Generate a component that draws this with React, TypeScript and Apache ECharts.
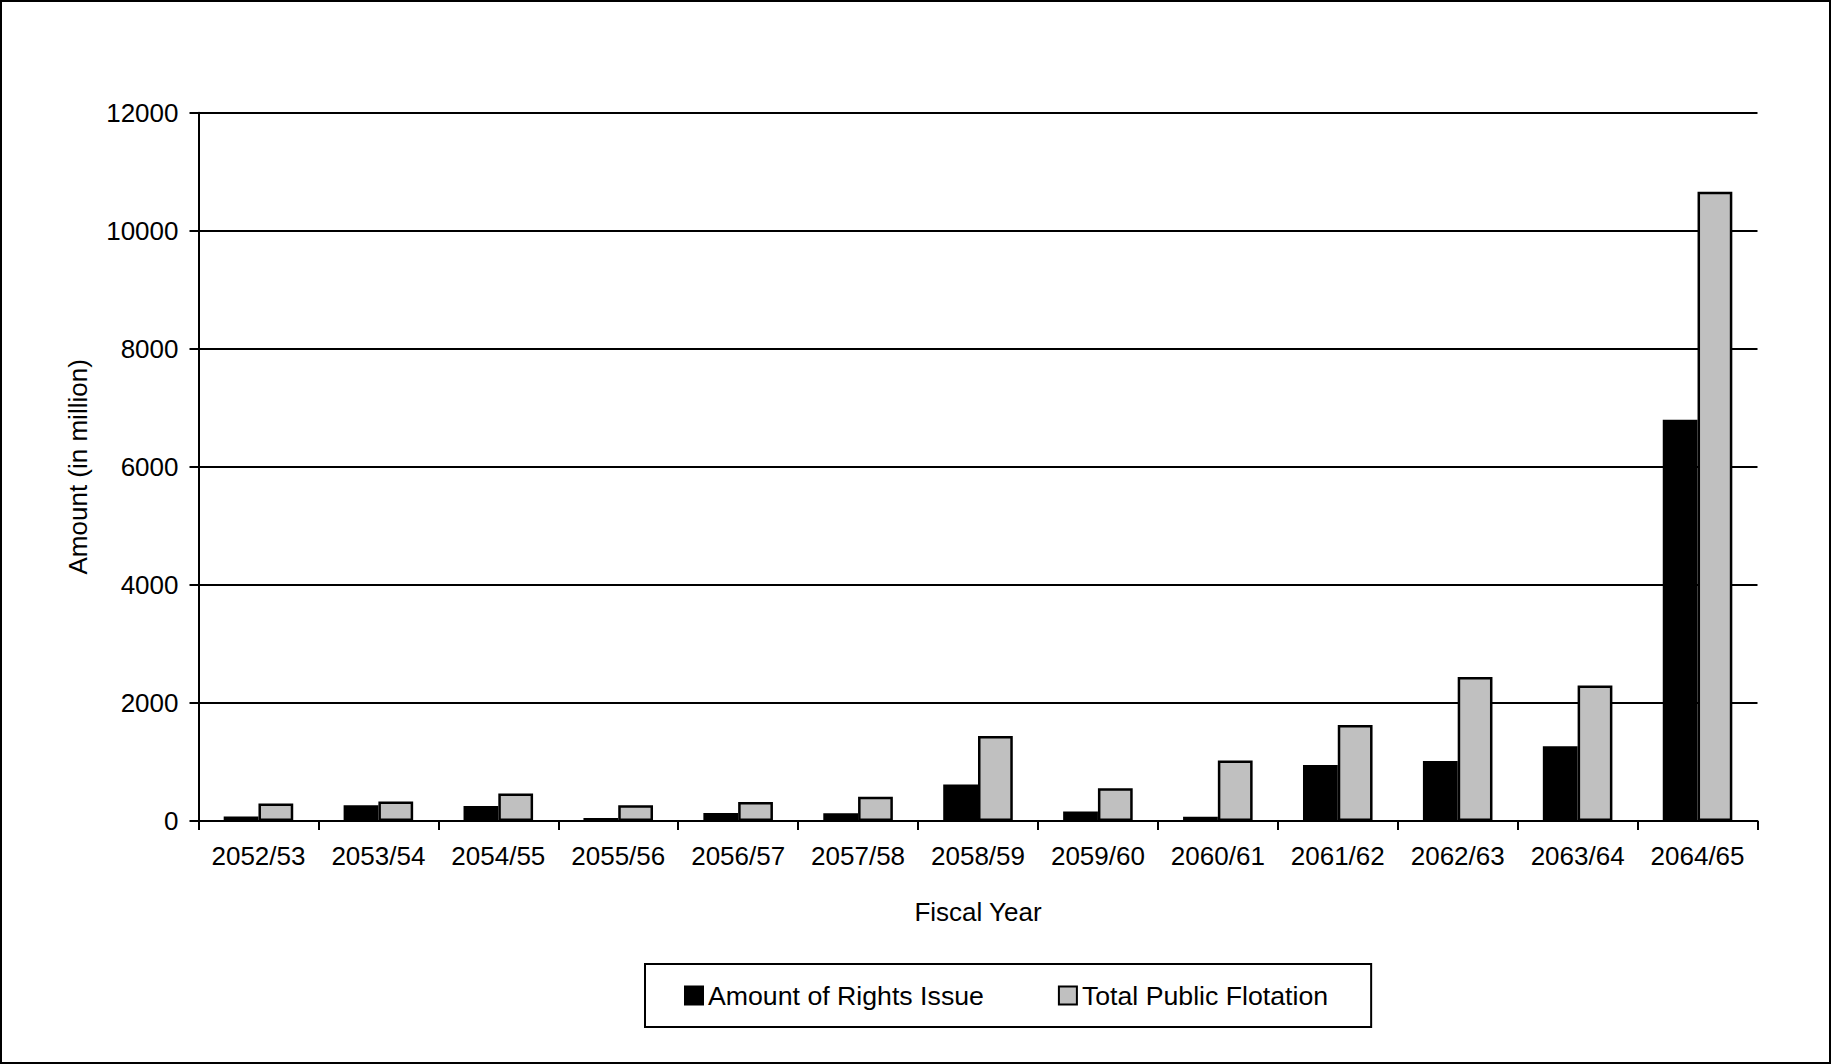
import React, { useEffect, useRef } from "react";
import * as echarts from "echarts";

const categories = [
  "2052/53", "2053/54", "2054/55", "2055/56", "2056/57", "2057/58", "2058/59",
  "2059/60", "2060/61", "2061/62", "2062/63", "2063/64", "2064/65",
];
const rightsIssue = [75, 265, 255, 50, 135, 130, 620, 160, 70, 950, 1015, 1265, 6800];
const publicFlotation = [295, 330, 465, 265, 320, 410, 1440, 555, 1025, 1625, 2440, 2295, 10660];
const yTicks = { min: 0, max: 12000, interval: 2000 };

const FONT = "'Liberation Sans', Arial, sans-serif";

export default function App() {
  const ref = useRef<HTMLDivElement>(null);
  useEffect(() => {
    if (!ref.current) return;
    const chart = echarts.init(ref.current, null, { renderer: "svg" });
    chart.setOption({
      animation: false,
      backgroundColor: "#ffffff",
      textStyle: { fontFamily: FONT, color: "#000" },
      graphic: [
        {
          type: "rect",
          shape: { x: 1, y: 1, width: 1829, height: 1062 },
          style: { fill: "none", stroke: "#000", lineWidth: 2 },
          silent: true,
        },
      ],
      grid: { left: 198.5, right: 73.5, top: 112.7, bottom: 243 },
      legend: {
        left: 645,
        top: 964,
        padding: [18, 43, 18, 39],
        itemGap: 74,
        itemWidth: 18,
        itemHeight: 18,
        icon: "rect",
        borderColor: "#000",
        borderWidth: 2,
        borderRadius: 0,
        textStyle: { fontFamily: FONT, fontSize: 26.7, color: "#000" },
        data: ["Amount of Rights Issue", "Total Public Flotation"],
      },
      xAxis: {
        type: "category",
        data: categories,
        name: "Fiscal Year",
        nameLocation: "middle",
        nameGap: 78,
        nameTextStyle: { fontFamily: FONT, fontSize: 26, color: "#000" },
        axisLine: { lineStyle: { color: "#000", width: 2 } },
        axisTick: { show: true, length: 9, lineStyle: { color: "#000", width: 2 } },
        axisLabel: { interval: 0, margin: 22, fontFamily: FONT, fontSize: 26, color: "#000" },
      },
      yAxis: {
        type: "value",
        min: yTicks.min,
        max: yTicks.max,
        interval: yTicks.interval,
        name: "Amount (in million)",
        nameLocation: "middle",
        nameGap: 108,
        nameRotate: 90,
        nameTextStyle: { fontFamily: FONT, fontSize: 26, color: "#000" },
        axisLine: { show: true, lineStyle: { color: "#000", width: 2 } },
        axisTick: { show: true, length: 9, lineStyle: { color: "#000", width: 2 } },
        axisLabel: {
          margin: 20,
          fontFamily: FONT,
          fontSize: 26,
          color: "#000",
          formatter: (v: number) => String(v),
        },
        splitLine: { show: true, lineStyle: { color: "#000", width: 2 } },
      },
      series: [
        {
          name: "Amount of Rights Issue",
          type: "bar",
          data: rightsIssue,
          barGap: "0%",
          barCategoryGap: "42%",
          itemStyle: { color: "#000000", borderColor: "#000", borderWidth: 2 },
        },
        {
          name: "Total Public Flotation",
          type: "bar",
          data: publicFlotation,
          barGap: "0%",
          barCategoryGap: "42%",
          itemStyle: { color: "#c0c0c0", borderColor: "#000", borderWidth: 2.5 },
        },
      ],
    });
    return () => chart.dispose();
  }, []);
  return (
    <div
      ref={ref}
      style={{ position: "fixed", left: 0, top: 0, width: 1831, height: 1064 }}
    />
  );
}
